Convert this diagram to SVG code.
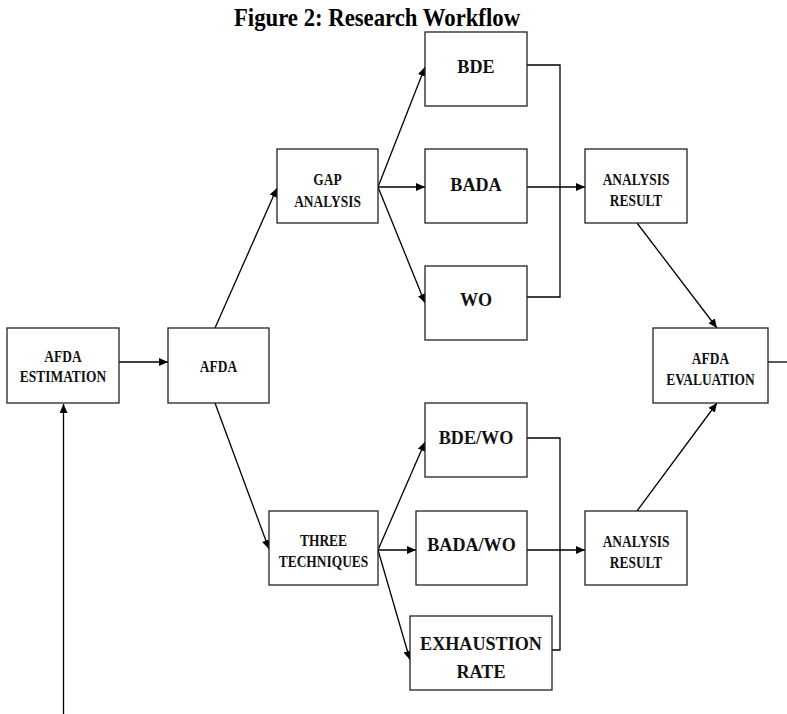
<svg xmlns="http://www.w3.org/2000/svg" width="787" height="714" viewBox="0 0 787 714">
<defs>
<marker id="arr" markerWidth="10" markerHeight="8" refX="9" refY="4" orient="auto" markerUnits="userSpaceOnUse">
<path d="M0,0 L9,4 L0,8 Z" fill="#000"/>
</marker>
<style>
.box{fill:#fff;stroke:#222;stroke-width:1.3}
.ln{fill:none;stroke:#000;stroke-width:1.3}
.s{font-family:"Liberation Serif","Times New Roman",serif;font-weight:bold;font-size:16px;text-anchor:middle;fill:#111}
.b{font-family:"Liberation Serif","Times New Roman",serif;font-weight:bold;font-size:19.5px;text-anchor:middle;fill:#111}
.t{font-family:"Liberation Serif","Times New Roman",serif;font-weight:bold;font-size:25px;text-anchor:middle;fill:#000}
</style>
</defs>
<rect width="787" height="714" fill="#fff"/>
<text class="t" transform="translate(377,26) scale(0.91,1)">Figure 2: Research Workflow</text>

<g id="connectors">
<line class="ln" x1="63.5" y1="714" x2="63.5" y2="404" marker-end="url(#arr)"/>
<line class="ln" x1="119" y1="362" x2="168" y2="362" marker-end="url(#arr)"/>
<line class="ln" x1="215" y1="328" x2="277" y2="188" marker-end="url(#arr)"/>
<line class="ln" x1="215" y1="403" x2="269" y2="549" marker-end="url(#arr)"/>
<line class="ln" x1="378" y1="187" x2="425" y2="67" marker-end="url(#arr)"/>
<line class="ln" x1="378" y1="187" x2="425" y2="187" marker-end="url(#arr)"/>
<line class="ln" x1="378" y1="187" x2="425" y2="303" marker-end="url(#arr)"/>
<line class="ln" x1="378" y1="550" x2="425" y2="442" marker-end="url(#arr)"/>
<line class="ln" x1="378" y1="550" x2="416" y2="550" marker-end="url(#arr)"/>
<line class="ln" x1="378" y1="550" x2="410" y2="660" marker-end="url(#arr)"/>
<polyline class="ln" points="527,65 560,65 560,297 527,297"/>
<line class="ln" x1="527" y1="187" x2="585" y2="187" marker-end="url(#arr)"/>
<polyline class="ln" points="527,438 560,438 560,650 552,650"/>
<line class="ln" x1="527" y1="550" x2="585" y2="550" marker-end="url(#arr)"/>
<line class="ln" x1="637" y1="223" x2="717" y2="328" marker-end="url(#arr)"/>
<line class="ln" x1="637" y1="511" x2="717" y2="403" marker-end="url(#arr)"/>
<line class="ln" x1="768" y1="362" x2="787" y2="362"/>
</g>

<g id="afda-estimation">
<rect class="box" x="7" y="328" width="112" height="75"/>
<text class="s" transform="translate(63,362) scale(0.84,1)">AFDA</text>
<text class="s" transform="translate(63,382) scale(0.84,1)">ESTIMATION</text>
</g>
<g id="afda">
<rect class="box" x="168" y="328" width="101" height="75"/>
<text class="s" transform="translate(218.5,372) scale(0.84,1)">AFDA</text>
</g>
<g id="gap-analysis">
<rect class="box" x="277" y="149" width="101" height="74"/>
<text class="s" transform="translate(327.5,185) scale(0.84,1)">GAP</text>
<text class="s" transform="translate(327.5,207) scale(0.84,1)">ANALYSIS</text>
</g>
<g id="three-techniques">
<rect class="box" x="269" y="511" width="109" height="74"/>
<text class="s" transform="translate(323.5,546) scale(0.84,1)">THREE</text>
<text class="s" transform="translate(323.5,567) scale(0.84,1)">TECHNIQUES</text>
</g>
<g id="bde">
<rect class="box" x="425" y="32" width="102" height="74"/>
<text class="b" transform="translate(476,73) scale(0.93,1)">BDE</text>
</g>
<g id="bada">
<rect class="box" x="425" y="149" width="102" height="74"/>
<text class="b" transform="translate(476,191) scale(0.93,1)">BADA</text>
</g>
<g id="wo">
<rect class="box" x="425" y="266" width="102" height="74"/>
<text class="b" transform="translate(476,306) scale(0.93,1)">WO</text>
</g>
<g id="bde-wo">
<rect class="box" x="425" y="403" width="102" height="74"/>
<text class="b" transform="translate(476,444) scale(0.93,1)">BDE/WO</text>
</g>
<g id="bada-wo">
<rect class="box" x="416" y="511" width="111" height="74"/>
<text class="b" transform="translate(471.5,551) scale(0.93,1)">BADA/WO</text>
</g>
<g id="exhaustion-rate">
<rect class="box" x="410" y="616" width="142" height="74"/>
<text class="b" transform="translate(481,650) scale(0.93,1)">EXHAUSTION</text>
<text class="b" transform="translate(481,678) scale(0.93,1)">RATE</text>
</g>
<g id="analysis-result-1">
<rect class="box" x="585" y="149" width="102" height="74"/>
<text class="s" transform="translate(636,185) scale(0.84,1)">ANALYSIS</text>
<text class="s" transform="translate(636,206) scale(0.84,1)">RESULT</text>
</g>
<g id="analysis-result-2">
<rect class="box" x="585" y="511" width="102" height="74"/>
<text class="s" transform="translate(636,547) scale(0.84,1)">ANALYSIS</text>
<text class="s" transform="translate(636,568) scale(0.84,1)">RESULT</text>
</g>
<g id="afda-evaluation">
<rect class="box" x="653" y="328" width="115" height="75"/>
<text class="s" transform="translate(710.5,364) scale(0.84,1)">AFDA</text>
<text class="s" transform="translate(710.5,385) scale(0.84,1)">EVALUATION</text>
</g>
</svg>
